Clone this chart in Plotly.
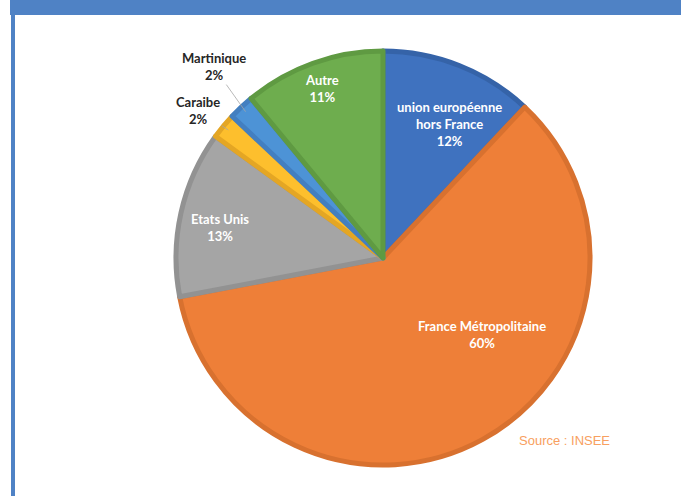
import math
import plotly.graph_objects as go

# Répartition (%) par provenance
labels = ["union européenne<br>hors France", "France Métropolitaine", "Etats Unis",
          "Caraibe", "Martinique", "Autre"]
values = [12, 60, 13, 2, 2, 11]

fills = ["#3F72BF", "#EE7F38", "#A5A5A5", "#FDBF2D", "#4D93D6", "#6EAD4E"]
edges = ["#3563A8", "#D8712F", "#929292", "#E4A624", "#437FC0", "#5F9A42"]

W, H = 681, 496
CX, CY, R = 383, 258, 207  # pixel centre and radius of the pie

fig = go.Figure(go.Pie(
    labels=labels, values=values, sort=False, direction="clockwise",
    rotation=0, textinfo="none", hoverinfo="label+percent",
    marker=dict(colors=fills, line=dict(color=edges, width=5)),
    domain=dict(x=[(CX - R) / W, (CX + R) / W], y=[(H - CY - R) / H, (H - CY + R) / H]),
    showlegend=False,
))

total = sum(values)
mid_angles = []
acc = 0
for v in values:
    mid_angles.append((acc + v / 2) / total * 2 * math.pi)
    acc += v


def point(angle, frac):
    px = CX + frac * R * math.sin(angle)
    py = CY - frac * R * math.cos(angle)
    return px / W, 1 - py / H


# inside labels: radial fraction and pixel nudge
inside = {0: (0.72, 12, -5), 1: (0.6, 39, 32), 2: (0.8, -1, -6), 5: (0.87, 0, 0)}
font_in = dict(family="Lato", size=13, color="white")
for i, (rf, xs, ys) in inside.items():
    x, y = point(mid_angles[i], rf)
    fig.add_annotation(x=x, y=y, xref="paper", yref="paper", showarrow=False,
                       xanchor="center", yanchor="middle",
                       text=f"<b>{labels[i]}<br>{values[i]}%</b>", font=font_in,
                       xshift=xs, yshift=ys)

# outside labels with leader lines
outside = {3: (-30, -20), 4: (-32, -45)}
font_out = dict(family="Lato", size=13, color="#262626")
for i, (ax, ay) in outside.items():
    x, y = point(mid_angles[i], 0.97)
    fig.add_annotation(x=x, y=y, xref="paper", yref="paper", showarrow=True,
                       arrowhead=0, arrowwidth=0.8, arrowcolor="#A6A6A6",
                       ax=ax, ay=ay, standoff=0,
                       text=f"<b>{labels[i]}<br>{values[i]}%</b>", font=font_out)

fig.add_annotation(x=517 / W, y=1 - 440 / H, xref="paper", yref="paper",
                   xanchor="left", yanchor="middle", showarrow=False,
                   text="Source : INSEE", font=dict(family="Liberation Sans", size=13, color="#F8A060"))

# blue frame: header bar and left border
fig.add_shape(type="rect", xref="paper", yref="paper", x0=10 / W, x1=1, y0=1 - 15 / H, y1=1,
              fillcolor="#4F82C5", line=dict(width=0), layer="above")
fig.add_shape(type="rect", xref="paper", yref="paper", x0=11 / W, x1=15 / W, y0=0, y1=1,
              fillcolor="#4F82C5", line=dict(width=0), layer="above")

fig.update_layout(width=W, height=H, margin=dict(l=0, r=0, t=0, b=0),
                  paper_bgcolor="white", plot_bgcolor="white")

fig.write_html("out.html")
